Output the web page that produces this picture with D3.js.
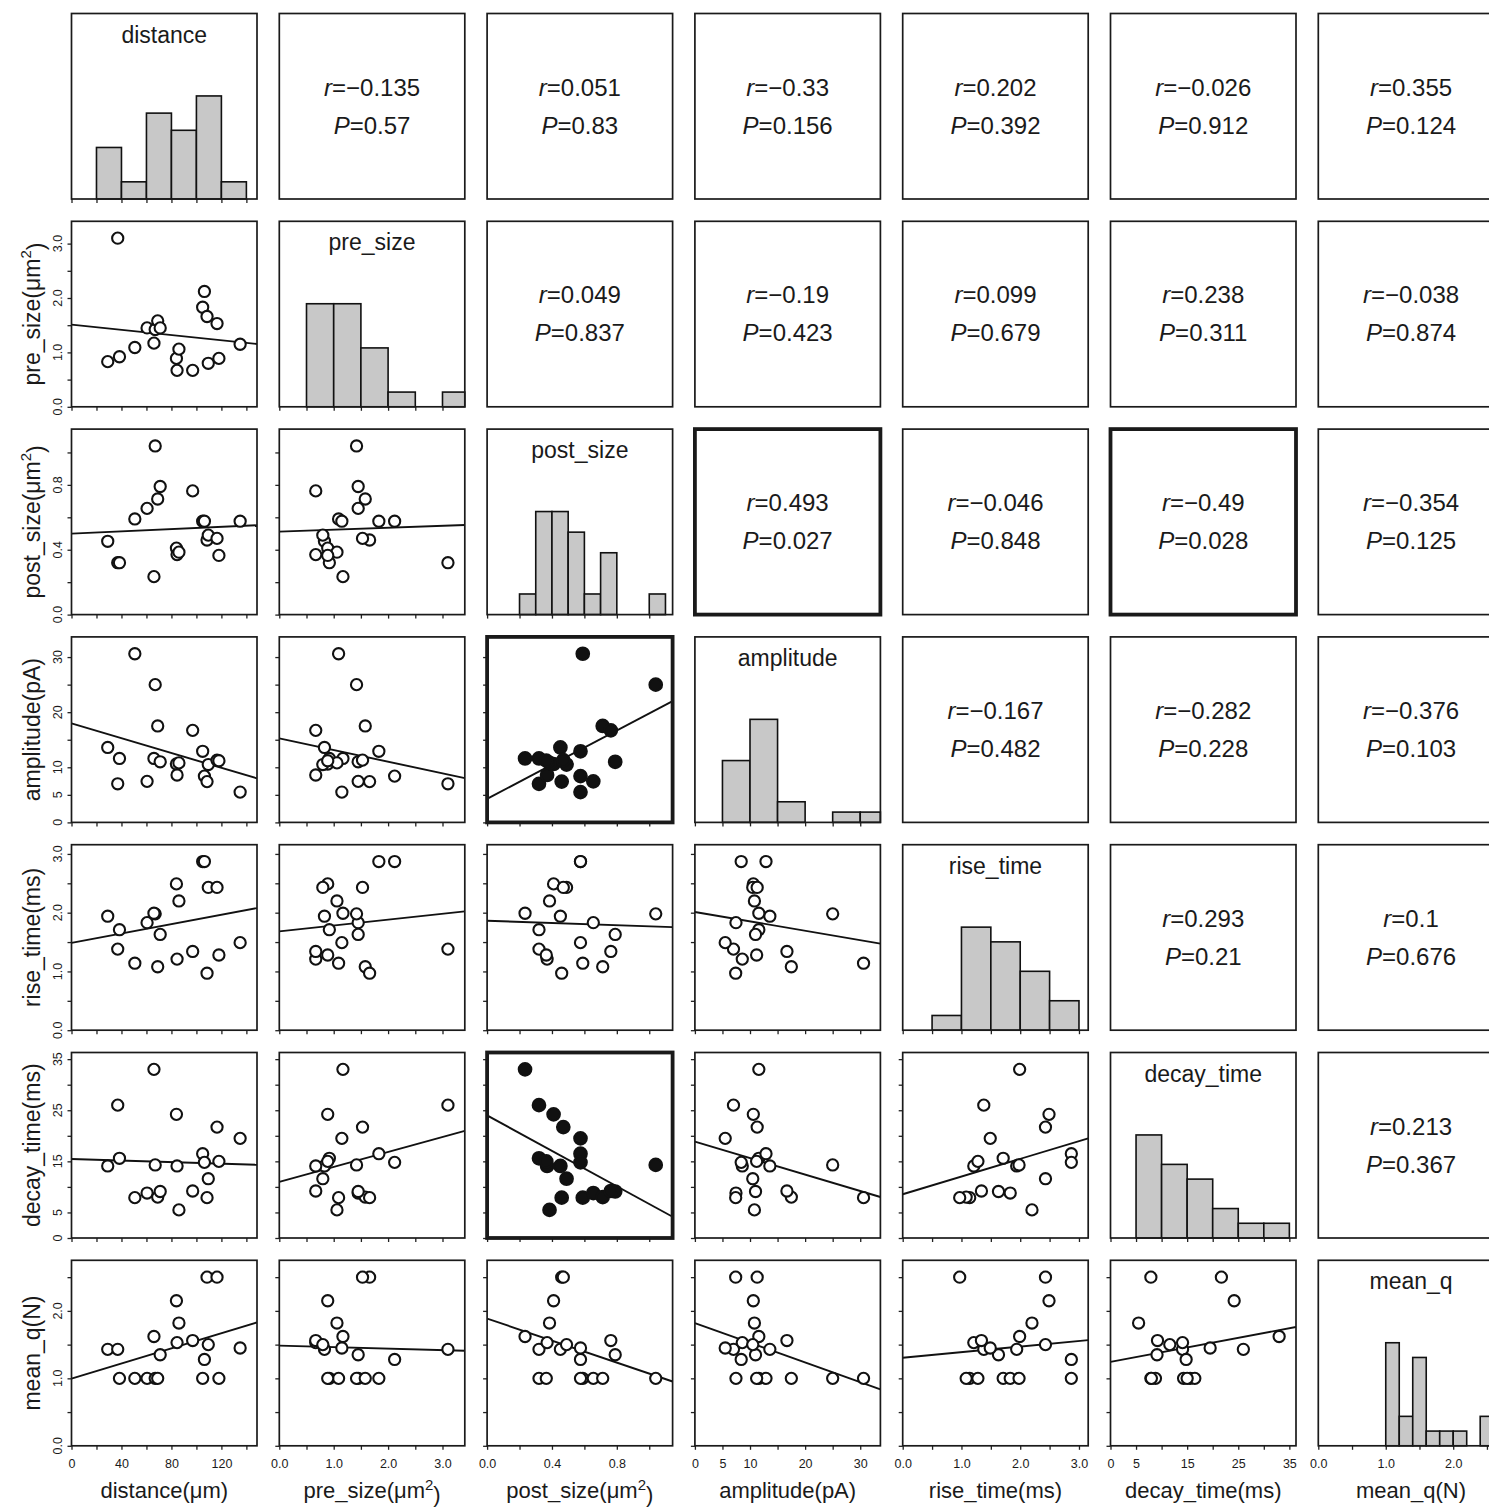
<!DOCTYPE html>
<html>
<head>
<meta charset="utf-8">
<script src="https://cdn.jsdelivr.net/npm/d3@7"></script>
<style>
  body { margin: 0; background: #fff; }
  svg text { font-family: "Liberation Sans", Arial, sans-serif; fill: #1a1a1a; }
</style>
</head>
<body>
<div id="chart"></div>
<script>
// variable names (diagonal titles)
var vars = ["distance", "pre_size", "post_size", "amplitude", "rise_time", "decay_time", "mean_q"];
// axis titles: [text, superscript, tail]
var axisTitles = [
  ["distance(μm)", "", ""],
  ["pre_size(μm", "2", ")"],
  ["post_size(μm", "2", ")"],
  ["amplitude(pA)", "", ""],
  ["rise_time(ms)", "", ""],
  ["decay_time(ms)", "", ""],
  ["mean_q(N)", "", ""]
];

// 20 synapses, one value per variable
var distance   = [29, 37, 38.4, 50.7, 60.5, 67, 66, 69, 71, 84, 84.5, 86, 97, 105, 106.4, 108.5, 109.5, 116.5, 118, 135];
var pre_size   = [0.83, 3.10, 0.92, 1.09, 1.45, 1.42, 1.17, 1.58, 1.45, 0.89, 0.67, 1.06, 0.67, 1.83, 2.12, 1.66, 0.80, 1.53, 0.89, 1.15];
var post_size  = [0.452, 0.32, 0.32, 0.59, 0.655, 1.04, 0.234, 0.713, 0.79, 0.41, 0.37, 0.385, 0.763, 0.576, 0.576, 0.46, 0.49, 0.47, 0.365, 0.576];
var amplitude  = [13.6, 7.0, 11.6, 30.6, 7.45, 25.0, 11.6, 17.5, 11.0, 10.6, 8.6, 10.8, 16.7, 12.9, 8.4, 7.4, 10.5, 11.3, 11.2, 5.5];
var rise_time  = [1.94, 1.38, 1.71, 1.14, 1.83, 1.98, 1.99, 1.08, 1.63, 2.49, 1.21, 2.2, 1.34, 2.87, 2.87, 0.97, 2.43, 2.43, 1.28, 1.49];
var decay_time = [14.1, 26.0, 15.6, 7.9, 8.8, 14.3, 33.0, 8.0, 9.1, 24.2, 14.1, 5.5, 9.2, 16.5, 14.8, 7.9, 11.6, 21.7, 15.0, 19.5];
var mean_q     = [1.43, 1.43, 1.0, 1.0, 1.0, 1.0, 1.62, 1.0, 1.35, 2.15, 1.53, 1.82, 1.56, 1.0, 1.28, 2.5, 1.5, 2.5, 1.0, 1.45];

// upper triangle labels, row by row
var rLabels = ["−0.135", "0.051", "−0.33", "0.202", "−0.026", "0.355",
               "0.049", "−0.19", "0.099", "0.238", "−0.038",
               "0.493", "−0.046", "−0.49", "−0.354",
               "−0.167", "−0.282", "−0.376",
               "0.293", "0.1",
               "0.213"];
var pLabels = ["0.57", "0.83", "0.156", "0.392", "0.912", "0.124",
               "0.837", "0.423", "0.679", "0.311", "0.874",
               "0.027", "0.848", "0.028", "0.125",
               "0.482", "0.228", "0.103",
               "0.21", "0.676",
               "0.367"];

// ticks, labelled ticks, histogram bin widths
var tickStep = [20, 0.5, 0.2, 5, 0.5, 5, 0.5];
var tickLabels = [[0, 40, 80, 120], [0, 1, 2, 3], [0, 0.4, 0.8], [0, 5, 10, 20, 30], [0, 1, 2, 3], [0, 5, 15, 25, 35], [0, 1, 2]];
var tickFmt = ["d", ".1f", ".1f", "d", ".1f", "d", ".1f"];
var binWidth = [20, 0.5, 0.1, 5, 0.5, 5, 0.2];

var columns = [distance, pre_size, post_size, amplitude, rise_time, decay_time, mean_q];
var n = vars.length;

var gridLeft = 71.5, gridTop = 13.5, step = 207.8, size = 185.5;

var svg = d3.select("#chart").append("svg")
    .attr("width", 1489)
    .attr("height", 1509);

// domains: 0 .. max*1.1
var domains = columns.map(function (v) { return [0, d3.max(v) * 1.1]; });
function sc(k) { return d3.scaleLinear().domain(domains[k]).range([0, size]); }
function scy(k) { return d3.scaleLinear().domain(domains[k]).range([size, 0]); }
function ticksOf(k) {
    return d3.range(0, 40).map(function (m) { return +(m * tickStep[k]).toFixed(2); })
        .filter(function (t) { return t <= domains[k][1]; });
}

function fit(xv, yv) {
    var mx = d3.mean(xv), my = d3.mean(yv);
    var sxy = d3.sum(xv, function (d, k) { return (d - mx) * (yv[k] - my); });
    var sxx = d3.sum(xv, function (d) { return (d - mx) * (d - mx); });
    var b = sxy / sxx;
    return [my - b * mx, b];
}

// significance lookup from upper triangle
var sig = {};
var idx = 0;
for (var i = 0; i < n; i++) {
    for (var j = i + 1; j < n; j++) {
        sig[i + "-" + j] = { r: rLabels[idx], p: pLabels[idx], s: +pLabels[idx] < 0.05 };
        idx++;
    }
}

var defs = svg.append("defs");
defs.append("clipPath").attr("id", "cell")
    .append("rect").attr("width", size).attr("height", size);

for (var i = 0; i < n; i++) {
    for (var j = 0; j < n; j++) {
        var g = svg.append("g")
            .attr("transform", "translate(" + (gridLeft + j * step) + "," + (gridTop + i * step) + ")");
        var xs = sc(j), ys = scy(i);
        var bold = false;

        if (i > j) {
            // scatter
            bold = sig[j + "-" + i].s;
            var xv = columns[j], yv = columns[i];
            var ab = fit(xv, yv);
            g.append("g").attr("clip-path", "url(#cell)")
                .append("line")
                .attr("x1", xs(domains[j][0])).attr("y1", ys(ab[0] + ab[1] * domains[j][0]))
                .attr("x2", xs(domains[j][1])).attr("y2", ys(ab[0] + ab[1] * domains[j][1]))
                .attr("stroke", "#111").attr("stroke-width", 1.9);
            g.selectAll("circle")
                .data(d3.range(xv.length))
                .enter().append("circle")
                .attr("cx", function (k) { return xs(xv[k]); })
                .attr("cy", function (k) { return ys(yv[k]); })
                .attr("r", bold ? 6.3 : 5.6)
                .attr("fill", bold ? "#111" : "#fff")
                .attr("stroke", "#111")
                .attr("stroke-width", 2.1);

            // left ticks
            var ya = g.append("g").call(d3.axisLeft(ys).tickValues(ticksOf(i)).tickSize(4).tickFormat(""));
            ya.select(".domain").remove();
            ya.selectAll("line").attr("stroke", "#222").attr("stroke-width", 1.3);
        } else if (i === j) {
            // histogram
            var thr = d3.range(0, 60).map(function (m) { return +(m * binWidth[i]).toFixed(2); })
                .filter(function (t) { return t < domains[i][1]; });
            var bins = d3.bin().domain(domains[i]).thresholds(thr)(columns[i]);
            var hy = d3.scaleLinear()
                .domain([0, d3.max(bins, function (b) { return b.length; }) * 1.8])
                .range([size, 0]);
            g.selectAll("rect.bar")
                .data(bins.filter(function (b) { return b.length > 0; }))
                .enter().append("rect")
                .attr("class", "bar")
                .attr("x", function (b) { return xs(b.x0); })
                .attr("width", function (b) { return xs(b.x1) - xs(b.x0); })
                .attr("y", function (b) { return hy(b.length); })
                .attr("height", function (b) { return size - hy(b.length); })
                .attr("fill", "#c8c8c8")
                .attr("stroke", "#111")
                .attr("stroke-width", 1.6);
            g.append("text")
                .attr("x", size / 2).attr("y", 29)
                .attr("text-anchor", "middle")
                .attr("font-size", 23)
                .text(vars[i]);
        } else {
            // correlation text
            var s = sig[i + "-" + j];
            bold = s.s;
            var t1 = g.append("text").attr("x", size / 2).attr("y", 82)
                .attr("text-anchor", "middle").attr("font-size", 24);
            t1.append("tspan").attr("font-style", "italic").text("r");
            t1.append("tspan").text("=" + s.r);
            var t2 = g.append("text").attr("x", size / 2).attr("y", 120)
                .attr("text-anchor", "middle").attr("font-size", 24);
            t2.append("tspan").attr("font-style", "italic").text("P");
            t2.append("tspan").text("=" + s.p);
        }

        // bottom ticks for scatter and histogram cells
        if (i >= j) {
            var f = d3.format(tickFmt[j]);
            var labs = tickLabels[j];
            var lastRow = (i === n - 1);
            var xa = g.append("g").attr("transform", "translate(0," + size + ")")
                .call(d3.axisBottom(xs).tickValues(ticksOf(j)).tickSize(4)
                    .tickFormat(function (d) {
                        if (!lastRow) return "";
                        return labs.some(function (l) { return Math.abs(l - d) < 1e-9; }) ? f(d) : "";
                    }));
            xa.select(".domain").remove();
            xa.selectAll("line").attr("stroke", "#222").attr("stroke-width", 1.3);
            xa.selectAll("text")
                .attr("font-size", 12.5)
                .attr("font-family", "Liberation Sans, Arial, sans-serif")
                .attr("fill", "#333")
                .attr("dy", "1.2em");
        }

        // left tick labels for first column
        if (j === 0 && i > 0) {
            var fy = d3.format(tickFmt[i]);
            g.selectAll("text.ylab")
                .data(tickLabels[i])
                .enter().append("text")
                .attr("class", "ylab")
                .attr("transform", function (d) { return "translate(-14," + ys(d) + ") rotate(-90)"; })
                .attr("text-anchor", "middle")
                .attr("dy", "0.35em")
                .attr("font-size", 12.5)
                .attr("fill", "#333")
                .text(function (d) { return fy(d); });
            // y title
            var yt = g.append("text")
                .attr("transform", "translate(-40," + (size / 2) + ") rotate(-90)")
                .attr("text-anchor", "middle")
                .attr("dy", "0.35em")
                .attr("font-size", 23);
            yt.append("tspan").text(axisTitles[i][0]);
            if (axisTitles[i][1]) {
                yt.append("tspan").attr("dy", "-0.55em").attr("font-size", 15).text(axisTitles[i][1]);
                yt.append("tspan").attr("dy", "0.55em").text(axisTitles[i][2]);
            }
        }

        // x titles in bottom row
        if (i === n - 1) {
            var xt = g.append("text")
                .attr("x", size / 2).attr("y", size + 52)
                .attr("text-anchor", "middle")
                .attr("font-size", 22);
            xt.append("tspan").text(axisTitles[j][0]);
            if (axisTitles[j][1]) {
                xt.append("tspan").attr("dy", "-0.55em").attr("font-size", 15).text(axisTitles[j][1]);
                xt.append("tspan").attr("dy", "0.55em").text(axisTitles[j][2]);
            }
        }

        // cell border
        g.append("rect")
            .attr("width", size).attr("height", size)
            .attr("fill", "none")
            .attr("stroke", "#1a1a1a")
            .attr("stroke-width", bold ? 3.8 : 1.7);
    }
}
</script>
</body>
</html>
